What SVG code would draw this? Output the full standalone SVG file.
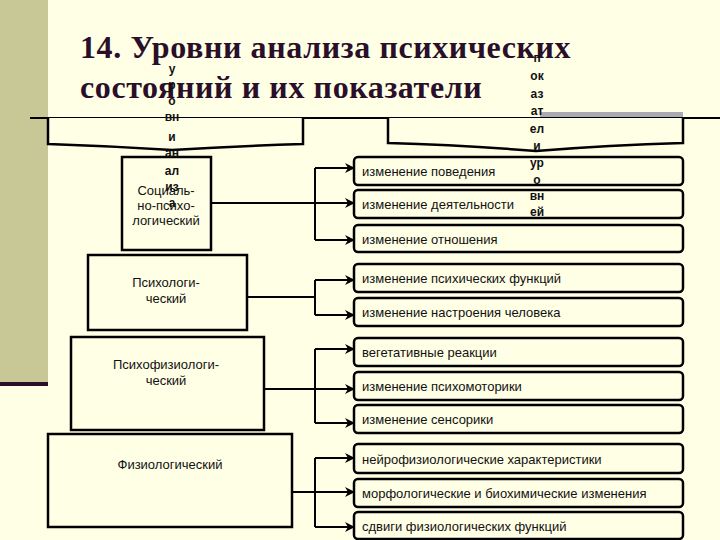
<svg xmlns="http://www.w3.org/2000/svg" width="720" height="540" viewBox="0 0 720 540">
<defs>
<marker id="ar" markerWidth="10" markerHeight="10" refX="9" refY="5" orient="auto" markerUnits="userSpaceOnUse"><path d="M0,0 L10,5 L0,10 L3,5 Z" fill="#000"/></marker>
</defs>
<style>
.t{font-family:"Liberation Sans",Arial,sans-serif;font-size:13px;fill:#111}
.v{font-family:"Liberation Sans",Arial,sans-serif;font-size:12px;font-weight:bold;fill:#111;text-anchor:middle}
.box{fill:#FFFFE6;stroke:#000;stroke-width:2.5}
.rb{fill:#FFFFE6;stroke:#000;stroke-width:2.5}
.c{fill:none;stroke:#000;stroke-width:2}
.h{font-family:"Liberation Serif","Times New Roman",serif;font-size:32px;font-weight:bold;fill:#2a0f2a;letter-spacing:0.6px}
</style>
<rect width="720" height="540" fill="#FFFFE6"/>
<rect x="0" y="0" width="48" height="382" fill="#C8C896"/>
<rect x="0" y="382" width="48" height="4" fill="#2a0f2a"/>
<text class="h" x="80" y="58">14. Уровни анализа психических</text>
<text class="h" x="80" y="98">состояний и их показатели</text>
<line x1="30" y1="118" x2="720" y2="118" stroke="#000" stroke-width="2"/>
<rect x="540" y="112" width="143" height="11" fill="#aaaab0"/>
<line x1="540" y1="118" x2="683" y2="118" stroke="#000" stroke-width="2"/>
<g id="brace-left"><path d="M48,118 L48,144 Q110,146 172,150 Q234,146 303,144 L303,118" fill="#FFFFE6" stroke="#000" stroke-width="2.5"/></g>
<g id="brace-right"><path d="M388,118 L388,143 Q460,145 536,151 Q610,145 683,143 L683,118" fill="#FFFFE6" stroke="#000" stroke-width="2.5"/></g>
<g id="connectors">
<path class="c" d="M315,168 V240"/>
<line class="c" x1="315" y1="168" x2="354" y2="168" marker-end="url(#ar)"/>
<line class="c" x1="211" y1="203" x2="354" y2="203" marker-end="url(#ar)"/>
<line class="c" x1="315" y1="240" x2="354" y2="240" marker-end="url(#ar)"/>
<path class="c" d="M247,297 H315 M315,280 V315"/>
<line class="c" x1="315" y1="280" x2="354" y2="280" marker-end="url(#ar)"/>
<line class="c" x1="315" y1="315" x2="354" y2="315" marker-end="url(#ar)"/>
<path class="c" d="M264,389 H315 M315,349 V423"/>
<line class="c" x1="315" y1="349" x2="354" y2="349" marker-end="url(#ar)"/>
<line class="c" x1="315" y1="389" x2="354" y2="389" marker-end="url(#ar)"/>
<line class="c" x1="315" y1="423" x2="354" y2="423" marker-end="url(#ar)"/>
<path class="c" d="M292,492 H315 M315,458 V527"/>
<line class="c" x1="315" y1="458" x2="354" y2="458" marker-end="url(#ar)"/>
<line class="c" x1="315" y1="492" x2="354" y2="492" marker-end="url(#ar)"/>
<line class="c" x1="315" y1="527" x2="354" y2="527" marker-end="url(#ar)"/>
</g>
<g id="n-social"><rect class="box" x="122" y="157" width="89" height="93"/>
<text class="t" text-anchor="middle"><tspan x="166" y="195">Социаль-</tspan><tspan x="166" y="210">но-психо-</tspan><tspan x="166" y="225">логический</tspan></text></g>
<g id="n-psych"><rect class="box" x="88" y="255" width="159" height="75"/>
<text class="t" text-anchor="middle"><tspan x="166" y="287">Психологи-</tspan><tspan x="166" y="303">ческий</tspan></text></g>
<g id="n-psychophys"><rect class="box" x="71" y="337" width="193" height="93"/>
<text class="t" text-anchor="middle"><tspan x="166" y="369">Психофизиологи-</tspan><tspan x="166" y="385">ческий</tspan></text></g>
<g id="n-phys"><rect class="box" x="48" y="434" width="244" height="93"/>
<text class="t" text-anchor="middle" x="170" y="469">Физиологический</text></g>
<g id="r1"><rect class="rb" x="354" y="157" width="329" height="28" rx="4"/><text class="t" x="362" y="176">изменение поведения</text></g>
<g id="r2"><rect class="rb" x="354" y="190" width="329" height="28" rx="4"/><text class="t" x="362" y="209">изменение деятельности</text></g>
<g id="r3"><rect class="rb" x="354" y="225" width="329" height="27" rx="4"/><text class="t" x="362" y="244">изменение отношения</text></g>
<g id="r4"><rect class="rb" x="354" y="264" width="329" height="28" rx="4"/><text class="t" x="362" y="283">изменение психических функций</text></g>
<g id="r5"><rect class="rb" x="354" y="298" width="329" height="28" rx="4"/><text class="t" x="362" y="317">изменение настроения человека</text></g>
<g id="r6"><rect class="rb" x="354" y="338" width="329" height="28" rx="4"/><text class="t" x="362" y="357">вегетативные реакции</text></g>
<g id="r7"><rect class="rb" x="354" y="372" width="329" height="28" rx="4"/><text class="t" x="362" y="391">изменение психомоторики</text></g>
<g id="r8"><rect class="rb" x="354" y="405" width="329" height="28" rx="4"/><text class="t" x="362" y="424">изменение сенсорики</text></g>
<g id="r9"><rect class="rb" x="354" y="444" width="329" height="29" rx="4"/><text class="t" x="362" y="464">нейрофизиологические характеристики</text></g>
<g id="r10"><rect class="rb" x="354" y="479" width="329" height="28" rx="4"/><text class="t" x="362" y="498">морфологические и биохимические изменения</text></g>
<g id="r11"><rect class="rb" x="354" y="512" width="329" height="27" rx="4"/><text class="t" x="362" y="531">сдвиги физиологических функций</text></g>
<g id="vtext-left">
<text class="v" x="172" y="73">у</text><text class="v" x="172" y="89">р</text><text class="v" x="172" y="105">о</text><text class="v" x="172" y="121">вн</text><text class="v" x="172" y="141">и</text><text class="v" x="172" y="157">ан</text><text class="v" x="172" y="175">ал</text><text class="v" x="172" y="191">из</text><text class="v" x="172" y="207">а</text>
</g>
<g id="vtext-right">
<text class="v" x="537" y="62">п</text><text class="v" x="537" y="80">ок</text><text class="v" x="537" y="98">аз</text><text class="v" x="537" y="115">ат</text><text class="v" x="537" y="133">ел</text><text class="v" x="537" y="150">и</text><text class="v" x="537" y="167">ур</text><text class="v" x="537" y="184">о</text><text class="v" x="537" y="200">вн</text><text class="v" x="537" y="216">ей</text>
</g>
</svg>
